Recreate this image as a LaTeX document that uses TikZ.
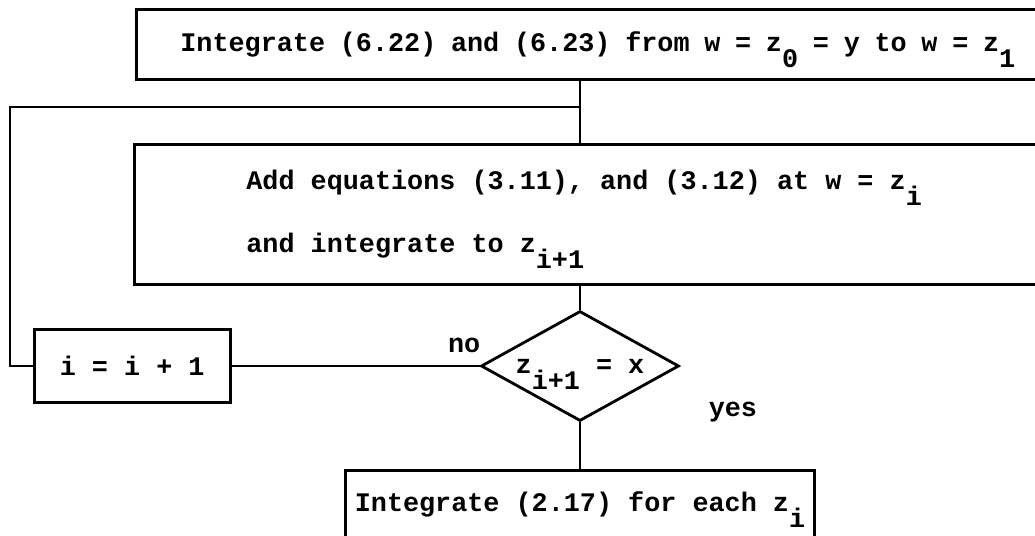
\documentclass[tikz,border=0pt]{standalone}
\usepackage{fontspec}
\setmonofont{Liberation Mono}
\usetikzlibrary{positioning,shapes.geometric}

% typewriter style text and subscript: same size, half a line down
\DeclareRobustCommand{\typer}{\fontsize{13.4pt}{31.5pt}\selectfont\ttfamily\bfseries}
\newcommand{\tsub}[1]{\smash{\raisebox{-8pt}{#1}}}

\begin{document}
\begin{tikzpicture}[x=1pt,y=1pt,
      line width=1.4pt,
      every node/.style={font=\typer},
      box/.style={draw,inner ysep=0pt},
      widebox/.style={box,anchor=north west,align=left,
        execute at begin node={\spaceskip=0.6em\relax\xspaceskip=0.6em\relax}},
      decision/.style={draw,diamond,aspect=1.8,inner sep=0pt,minimum width=99pt,minimum height=55pt},
      lbl/.style={inner sep=0pt}]
    \useasboundingbox (0,0) rectangle (517.5,-268);
    \node[widebox,minimum height=35pt,text width=440pt,inner xsep=22pt,
        execute at begin node={\spaceskip=0.55em\relax}] (start) at (67.5,-4)
      {Integrate (6.22) and (6.23) from w = z\tsub{0} = y to w = z\tsub{1}};
    \node[widebox,minimum height=70pt,text width=358pt,inner xsep=56pt] (add) at (66.5,-71.5)
      {Add equations (3.11), and (3.12) at w = z\tsub{i}\\and integrate to z\tsub{i+1}};
    \node[decision] (test) at (290,-183) {z\tsub{i+1} = x};
    \node[box,minimum width=98pt,minimum height=36.5pt,left=124pt of test] (incr) {i = i + 1};
    \node[box,minimum width=234.5pt,minimum height=34pt,inner xsep=2pt,below=23.5pt of test] (final)
      {Integrate (2.17) for each z\tsub{i}};
    \node[lbl,anchor=base east] (no) at ([shift={(1,7)}]test.west) {no};
    \node[lbl,anchor=base west] (yes) at ([shift={(13.5,-25.3)}]test.east) {yes};
    \coordinate (join) at (290,-53.5);
    \coordinate (back) at (5,-53.5);
    \draw (start.south -| test) -- (add.north -| test);
    \draw (join) -- (back) |- (incr.west);
    \draw (add.south -| test) -- (test.north);
    \draw (test.west) -- (incr.east);
    \draw (test.south) -- (final.north);
  \end{tikzpicture}
\end{document}
